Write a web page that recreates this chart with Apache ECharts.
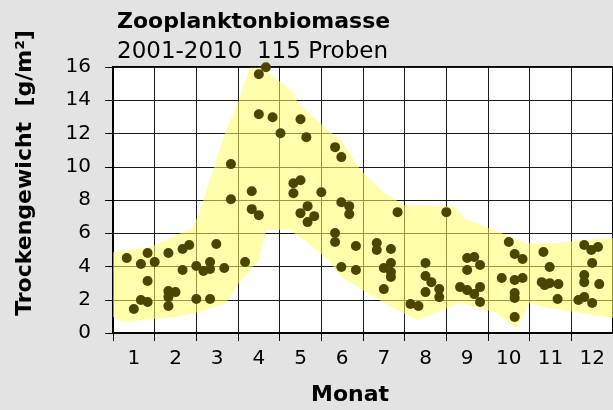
<!DOCTYPE html>
<html>
<head>
<meta charset="utf-8">
<script src="https://cdn.jsdelivr.net/npm/echarts@6/dist/echarts.min.js"></script>
<style>
  html, body { margin: 0; padding: 0; background: #e3e3e3; }
  #wrap { position: relative; width: 613px; height: 410px; overflow: hidden; }
  #plotbg { position: absolute; left: 113px; top: 67px; width: 504px; height: 266px; background: #fff; }
  #gitter, #chart { position: absolute; left: 0; top: 0; width: 613px; height: 410px; }
</style>
</head>
<body>
<div id="wrap">
  <div id="plotbg"></div>
  <div id="gitter"></div>
  <div id="chart"></div>
</div>
<script>
// Monate (Achsenbeschriftung)
var monate = ['1', '2', '3', '4', '5', '6', '7', '8', '9', '10', '11', '12'];

// Einzelproben: [Monat, Trockengewicht g/m2]
var proben = [
  [0.83, 4.51], [1.17, 4.15], [1.33, 4.81], [1.5, 4.27], [1.33, 3.13], [1.83, 4.81],
  [2.17, 5.05], [2.33, 5.29], [2.17, 3.79], [2.5, 4.03], [2.67, 3.73], [2.83, 4.27],
  [2.83, 3.85], [2.98, 5.35], [1.17, 1.98], [1.33, 1.86], [1.0, 1.44], [1.83, 2.52],
  [2.0, 2.46], [1.83, 2.16], [1.83, 1.62], [2.5, 2.04], [2.83, 2.04], [3.17, 3.91],
  [3.67, 4.27], [3.33, 10.16], [3.33, 8.05], [3.83, 8.53], [3.83, 7.45], [4.0, 7.09],
  [4.17, 15.99], [4.0, 15.56], [4.0, 13.16], [4.33, 12.98], [5.0, 12.86], [4.52, 12.02],
  [5.14, 11.78], [4.83, 9.01], [5.0, 9.19], [4.83, 8.41], [5.5, 8.47], [5.98, 7.87],
  [6.17, 7.63], [6.17, 7.15], [5.17, 7.63], [5.0, 7.21], [5.33, 7.03], [5.17, 6.67],
  [5.83, 11.18], [5.98, 10.58], [7.33, 7.27], [8.5, 7.27], [5.83, 6.01], [5.83, 5.47],
  [6.33, 5.23], [6.83, 5.41], [6.83, 4.99], [7.17, 5.05], [5.98, 3.97], [6.33, 3.79],
  [7.0, 3.91], [7.17, 4.21], [7.17, 3.67], [7.17, 3.37], [7.0, 2.64], [8.0, 4.21],
  [8.0, 3.43], [8.14, 3.06], [8.33, 2.64], [8.33, 2.16], [8.0, 2.46], [7.64, 1.74],
  [7.83, 1.62], [9.0, 4.51], [9.17, 4.57], [9.0, 3.79], [8.83, 2.76], [9.0, 2.58],
  [9.17, 2.34], [9.31, 4.09], [9.31, 2.76], [9.31, 1.86], [10.0, 5.47], [10.14, 4.75],
  [10.33, 4.45], [9.83, 3.31], [10.14, 3.19], [10.33, 3.31], [10.14, 2.40], [10.14, 2.10],
  [10.14, 0.96], [10.83, 4.87], [10.98, 3.97], [10.79, 3.06], [10.86, 2.88], [10.98, 3.00],
  [11.19, 2.94], [11.17, 2.04], [11.81, 5.29], [11.98, 4.99], [12.14, 5.17], [12.0, 4.21],
  [11.81, 3.49], [11.81, 3.06], [12.17, 2.94], [11.67, 1.98], [11.81, 2.16], [12.0, 1.80]
];

// Streubereich (gelbes Band), obere und untere Grenze
var bandOben = [
  [0.5, 4.86], [1.38, 5.16], [2.4, 6.3], [2.57, 7.2], [3.05, 10.98], [3.21, 12.18],
  [3.52, 13.98], [3.76, 15.78], [3.81, 15.96], [4.07, 15.96], [4.79, 14.58], [4.95, 13.8],
  [5.67, 12.18], [5.98, 11.58], [6.45, 9.78], [7.02, 8.4], [7.5, 7.68], [8.69, 7.62],
  [8.93, 6.9], [10.43, 5.4], [11.14, 5.4], [11.69, 5.58], [12.5, 5.7]
];
var bandUnten = [
  [0.5, 0.96], [0.74, 0.66], [2.02, 0.96], [2.57, 1.26], [3.21, 1.8], [3.52, 3.0],
  [4.0, 4.38], [4.17, 6.18], [4.71, 6.24], [5.19, 5.4], [5.67, 4.38], [5.98, 3.36],
  [7.17, 1.56], [7.81, 0.78], [8.83, 1.8], [9.71, 1.2], [10.19, 0.3], [10.5, 1.8],
  [10.83, 1.56], [12.5, 0.9]
];

var font = 'DejaVu Sans';
var gridPos = { left: 113, right: -4, top: 67, bottom: 77 };

// hintere Ebene: nur Gitter und Rahmen
var gitter = echarts.init(document.getElementById('gitter'));
gitter.setOption({
  backgroundColor: 'transparent',
  animation: false,
  grid: Object.assign({ show: true, borderColor: '#000', borderWidth: 2 }, gridPos),
  xAxis: [
    {
      type: 'category',
      data: monate,
      axisLabel: { show: false },
      axisTick: { show: false },
      splitLine: { show: true, interval: 0, lineStyle: { color: '#1a1a1a' } }
    },
    { type: 'value', min: 0.5, max: 12.5, show: false }
  ],
  yAxis: {
    type: 'value',
    min: 0,
    max: 16,
    interval: 2,
    axisLabel: { show: false },
    splitLine: { show: true, lineStyle: { color: '#1a1a1a' } }
  },
  series: [{ type: 'scatter', xAxisIndex: 1, symbolSize: 0, data: [[3, 4]] }]
});

// vordere Ebene: Achsen, Band, Proben, Texte
var chart = echarts.init(document.getElementById('chart'));
chart.setOption({
  backgroundColor: 'transparent',
  animation: false,
  title: {
    text: 'Zooplanktonbiomasse',
    subtext: '2001-2010  115 Proben',
    left: 117,
    top: 11,
    padding: 0,
    itemGap: 8,
    textStyle: { fontFamily: font, fontSize: 22, fontWeight: 'bold', color: '#000' },
    subtextStyle: { fontFamily: font, fontSize: 23, color: '#000' }
  },
  grid: gridPos,
  xAxis: [
    {
      type: 'category',
      data: monate,
      boundaryGap: true,
      axisLine: { lineStyle: { color: '#000', width: 2 } },
      axisTick: { show: true, interval: 0, length: 8, lineStyle: { color: '#000' } },
      axisLabel: { interval: 0, margin: 16, fontFamily: font, fontSize: 20, color: '#000' },
      splitLine: { show: false }
    },
    { type: 'value', min: 0.5, max: 12.5, show: false }
  ],
  yAxis: {
    type: 'value',
    min: 0,
    max: 16,
    interval: 2,
    axisLine: { show: true, lineStyle: { color: '#000', width: 2 } },
    axisTick: { show: true, length: 8, lineStyle: { color: '#000' } },
    axisLabel: { margin: 22, fontFamily: font, fontSize: 20, color: '#000' },
    splitLine: { show: false }
  },
  graphic: [
    {
      type: 'text',
      x: 25,
      y: 173,
      rotation: Math.PI / 2,
      style: {
        text: 'Trockengewicht  [g/m²]',
        fontFamily: font, fontSize: 22, fontWeight: 'bold', fill: '#000',
        align: 'center', verticalAlign: 'middle'
      }
    },
    {
      type: 'text',
      x: 350,
      y: 395,
      style: {
        text: 'Monat',
        fontFamily: font, fontSize: 22, fontWeight: 'bold', fill: '#000',
        align: 'center', verticalAlign: 'middle'
      }
    }
  ],
  series: [
    {
      type: 'custom',
      xAxisIndex: 1,
      z: 1,
      clip: false,
      silent: true,
      data: [[0.5, 0]],
      renderItem: function (params, api) {
        var pts = [];
        bandOben.forEach(function (p) { pts.push(api.coord(p)); });
        bandUnten.slice().reverse().forEach(function (p) { pts.push(api.coord(p)); });
        return {
          type: 'polygon',
          shape: { points: pts },
          style: { fill: 'rgba(255,255,102,0.55)', stroke: 'none' }
        };
      }
    },
    {
      type: 'scatter',
      xAxisIndex: 1,
      z: 3,
      symbol: 'circle',
      symbolSize: 10,
      itemStyle: { color: '#4b4500', opacity: 1 },
      data: proben
    }
  ]
});
</script>
</body>
</html>
